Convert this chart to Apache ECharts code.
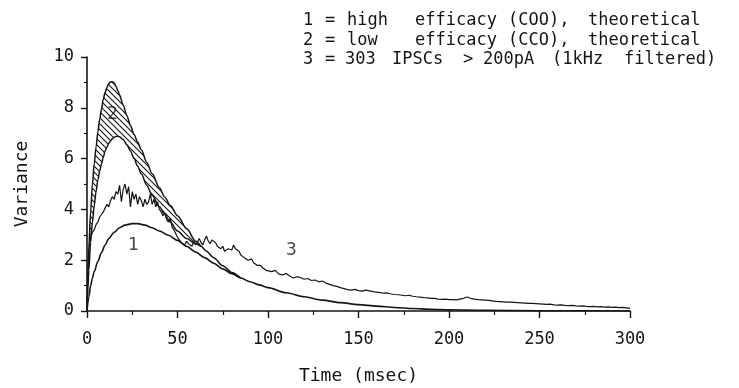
<!DOCTYPE html>
<html><head><meta charset="utf-8">
<script src="https://cdn.jsdelivr.net/npm/echarts/dist/echarts.min.js"></script>
<style>html,body{margin:0;padding:0;background:#fff}#c{width:739px;height:388px}</style>
</head><body><div id="c"></div>
<script>
// ---------- data ----------
const xTicks = [0, 50, 100, 150, 200, 250, 300];
const yTicks = [0, 2, 4, 6, 8, 10];

// curve 1: high efficacy (COO), theoretical
const c1T = [0,1,2,3,4,6,8,10,12,15,18,21,25,28,32,36,40,45,50,55,60,65,70,75,80,85,90,95,100,110,120,130,140,150,160,170,180,190,200,220,250,300];
const c1V = [0,0.55,1.0,1.3,1.55,1.95,2.3,2.6,2.85,3.1,3.28,3.38,3.44,3.44,3.38,3.28,3.15,2.98,2.78,2.55,2.32,2.1,1.88,1.66,1.47,1.3,1.15,1.03,0.92,0.72,0.56,0.43,0.33,0.25,0.19,0.14,0.1,0.07,0.05,0.03,0.01,0];

// curve 2: low efficacy (CCO), theoretical -- upper bound of hatched band (until band closes)
const c2UpperT = [0,0.5,1,2,3,4,5,6,7,8,9,10,11,12,13,14,15,16,17,18,20,22,24,26,28,30,33,36,40,43,46,50,55,60,63];
const c2UpperV = [0,1.5,2.5,3.9,5.0,5.8,6.45,7.05,7.55,7.95,8.35,8.6,8.8,8.95,9.02,9.03,8.98,8.85,8.68,8.5,8.1,7.7,7.3,6.95,6.65,6.35,5.85,5.4,4.85,4.48,4.15,3.75,3.25,2.75,2.55];
// lower bound of band, continuing as the single curve until it joins curve 1
const c2LowerT = [0,0.5,1,2,3,4,5,6,7,8,9,10,11,12,13,14,15,16,17,18,20,22,24,26,28,30,33,36,40,43,46,50,55,60,63,66,70,75,80,85];
const c2LowerV = [0,0.9,1.6,2.7,3.5,4.15,4.7,5.15,5.5,5.8,6.05,6.3,6.45,6.6,6.7,6.78,6.84,6.87,6.88,6.86,6.75,6.55,6.3,6.0,5.7,5.4,4.95,4.55,4.1,3.8,3.5,3.15,2.85,2.65,2.55,2.35,2.1,1.78,1.52,1.3];

// curve 3: 303 IPSCs > 200pA (1kHz filtered), measured
const c3T = [0,1,2,3,4,5,6,7,8,9,10,11,12,13,14,15,16,17,18,19,20,21,22,23,24,25,26,27,28,29,30,31,32,33,34,35,36,37,38,39,40,41,42,43,44,45,46,47,48,49,50,51,52,53,54,55,56,57,58,59,60,61,62,63,64,65,66,67,68,69,70,71,72,73,74,75,76,77,78,79,80,81,82,83,84,85,86,87,88,89,90,91,92,93,94,95,96,97,98,99,
100,102,104,106,108,110,112,114,116,118,120,122,124,126,128,130,132,134,136,138,140,142,144,146,148,150,152,154,156,158,160,162,164,166,168,170,172,174,176,178,180,182,184,186,188,190,192,194,196,198,200,202,204,206,208,210,212,214,216,218,220,222,224,226,228,230,232,234,236,238,240,242,244,246,248,250,252,254,256,258,260,262,264,266,268,270,272,274,276,278,280,282,284,286,288,290,292,294,296,298,300];
const c3V = [0,2.4,2.9,3.1,3.2,3.4,3.5,3.7,3.8,3.9,4.05,4.2,4.1,4.35,4.5,4.4,4.7,4.6,4.95,4.3,4.8,5.0,4.6,4.9,4.1,4.7,4.4,4.6,4.2,4.5,4.35,4.1,4.4,4.2,4.3,4.6,4.2,4.4,4.1,4.3,4.0,3.9,3.75,3.85,3.6,3.5,3.65,3.3,3.2,3.05,2.9,2.85,2.7,2.75,2.6,2.75,2.65,2.7,2.55,2.75,2.6,2.7,2.85,2.7,2.6,2.8,2.95,2.75,2.65,2.8,2.85,2.7,2.55,2.6,2.45,2.55,2.35,2.3,2.45,2.5,2.4,2.6,2.45,2.5,2.35,2.2,2.25,2.1,2.15,2.0,1.95,2.05,1.9,1.85,1.8,1.75,1.8,1.7,1.65,1.6,
1.62,1.55,1.6,1.45,1.42,1.48,1.38,1.3,1.35,1.32,1.25,1.28,1.2,1.22,1.15,1.18,1.1,1.05,1.0,0.97,0.92,0.88,0.84,0.82,0.85,0.8,0.78,0.82,0.79,0.76,0.74,0.72,0.7,0.71,0.67,0.65,0.64,0.62,0.6,0.62,0.58,0.56,0.55,0.53,0.52,0.5,0.5,0.47,0.46,0.47,0.45,0.45,0.44,0.47,0.5,0.55,0.5,0.47,0.45,0.44,0.43,0.42,0.4,0.38,0.37,0.36,0.35,0.35,0.34,0.33,0.32,0.31,0.3,0.3,0.29,0.28,0.27,0.26,0.27,0.24,0.23,0.24,0.22,0.21,0.22,0.2,0.19,0.2,0.18,0.17,0.18,0.16,0.17,0.15,0.16,0.14,0.15,0.13,0.14,0.12,0.1];

// curve number labels [time, variance, text]
const curveLabels = [[25.5, 2.6, '1'], [14, 7.75, '2'], [113, 2.4, '3']];

// legend lines (words)
const legendRows = [
  ['1', '=', 'high', 'efficacy', '(COO),', 'theoretical'],
  ['2', '=', 'low', 'efficacy', '(CCO),', 'theoretical'],
  ['3', '=', '303', 'IPSCs', '>', '200pA', '(1kHz', 'filtered)']
];
const axisTitleX = 'Time (msec)';
const axisTitleY = 'Variance';

// ---------- layout / style ----------
const INK = '#151515';
const FONT = '"DejaVu Sans Mono", monospace';
const legendX = [
  [303, 325, 347, 415, 508, 588],
  [303, 325, 347, 415, 508, 588],
  [303, 325, 345, 392, 463, 483, 552, 624]
];
const legendY = [22, 42, 61];

function zip(t, v) { return t.map((x, i) => [x, v[i]]); }

function hatchPattern() {
  const s = 6, c = document.createElement('canvas');
  c.width = s; c.height = s;
  const g = c.getContext('2d');
  g.strokeStyle = INK; g.lineWidth = 1.1;
  g.beginPath();
  g.moveTo(-1, -1); g.lineTo(s + 1, s + 1);
  g.moveTo(s - 1, -1); g.lineTo(s + 1, 1);
  g.moveTo(-1, s - 1); g.lineTo(1, s + 1);
  g.stroke();
  return c;
}

const graphics = [];
legendRows.forEach((row, r) => {
  row.forEach((w, i) => {
    graphics.push({
      type: 'text', left: legendX[r][i], top: legendY[r] - 10, z: 20,
      style: { text: w, fill: INK, font: '17px ' + FONT }
    });
  });
});

const chart = echarts.init(document.getElementById('c'), null, { renderer: 'canvas' });
chart.setOption({
  animation: false,
  backgroundColor: '#fff',
  grid: { left: 87, right: 109, top: 57, bottom: 77, containLabel: false, outerBoundsMode: 'none' },
  xAxis: {
    type: 'value', min: xTicks[0], max: xTicks[xTicks.length - 1], interval: 50, z: 10,
    name: axisTitleX, nameLocation: 'middle', nameGap: 56,
    nameTextStyle: { color: INK, fontFamily: FONT, fontSize: 18 },
    axisLine: { show: true, onZero: false, lineStyle: { color: INK, width: 1.6 } },
    axisTick: { show: true, inside: false, length: 7, lineStyle: { color: INK, width: 1.4 } },
    minorTick: { show: true, splitNumber: 2, length: 4, lineStyle: { color: INK, width: 1.2 } },
    splitLine: { show: false }, minorSplitLine: { show: false },
    axisLabel: { show: true, margin: 20, color: INK, fontFamily: FONT, fontSize: 17, showMinLabel: true, showMaxLabel: true }
  },
  yAxis: {
    type: 'value', min: yTicks[0], max: yTicks[yTicks.length - 1], interval: 2, z: 10,
    name: axisTitleY, nameLocation: 'middle', nameGap: 56, nameRotate: 90,
    nameTextStyle: { color: INK, fontFamily: FONT, fontSize: 18 },
    axisLine: { show: true, onZero: false, lineStyle: { color: INK, width: 1.6 } },
    axisTick: { show: true, inside: false, length: 6, lineStyle: { color: INK, width: 1.4 } },
    minorTick: { show: true, splitNumber: 2, length: 3, lineStyle: { color: INK, width: 1.2 } },
    splitLine: { show: false }, minorSplitLine: { show: false },
    axisLabel: { show: true, margin: 13, color: INK, fontFamily: FONT, fontSize: 17, showMinLabel: true, showMaxLabel: true }
  },
  series: [
    {
      name: 'upper', type: 'line', data: zip(c2UpperT, c2UpperV), z: 2,
      showSymbol: false, smooth: 0.3, smoothMonotone: 'x',
      lineStyle: { color: INK, width: 1.5 },
      areaStyle: { color: { image: hatchPattern(), repeat: 'repeat' }, opacity: 1 }
    },
    {
      name: 'lower', type: 'line', data: zip(c2LowerT, c2LowerV), z: 3,
      showSymbol: false, smooth: 0.3, smoothMonotone: 'x',
      lineStyle: { color: INK, width: 1.5 },
      areaStyle: { color: '#fff', opacity: 1 }
    },
    {
      name: 'curve1', type: 'line', data: zip(c1T, c1V), z: 5,
      showSymbol: false, smooth: 0.3, smoothMonotone: 'x',
      lineStyle: { color: INK, width: 1.6 }
    },
    {
      name: 'curve3', type: 'line', data: zip(c3T, c3V), z: 5,
      showSymbol: false, smooth: false,
      lineStyle: { color: INK, width: 1.2 }
    },
    {
      name: 'labels', type: 'scatter', data: curveLabels, z: 6,
      symbolSize: 0, silent: true,
      label: { show: true, position: 'inside', formatter: p => p.value[2], color: INK, fontFamily: FONT, fontSize: 18 }
    }
  ],
  graphic: graphics
});
</script></body></html>
